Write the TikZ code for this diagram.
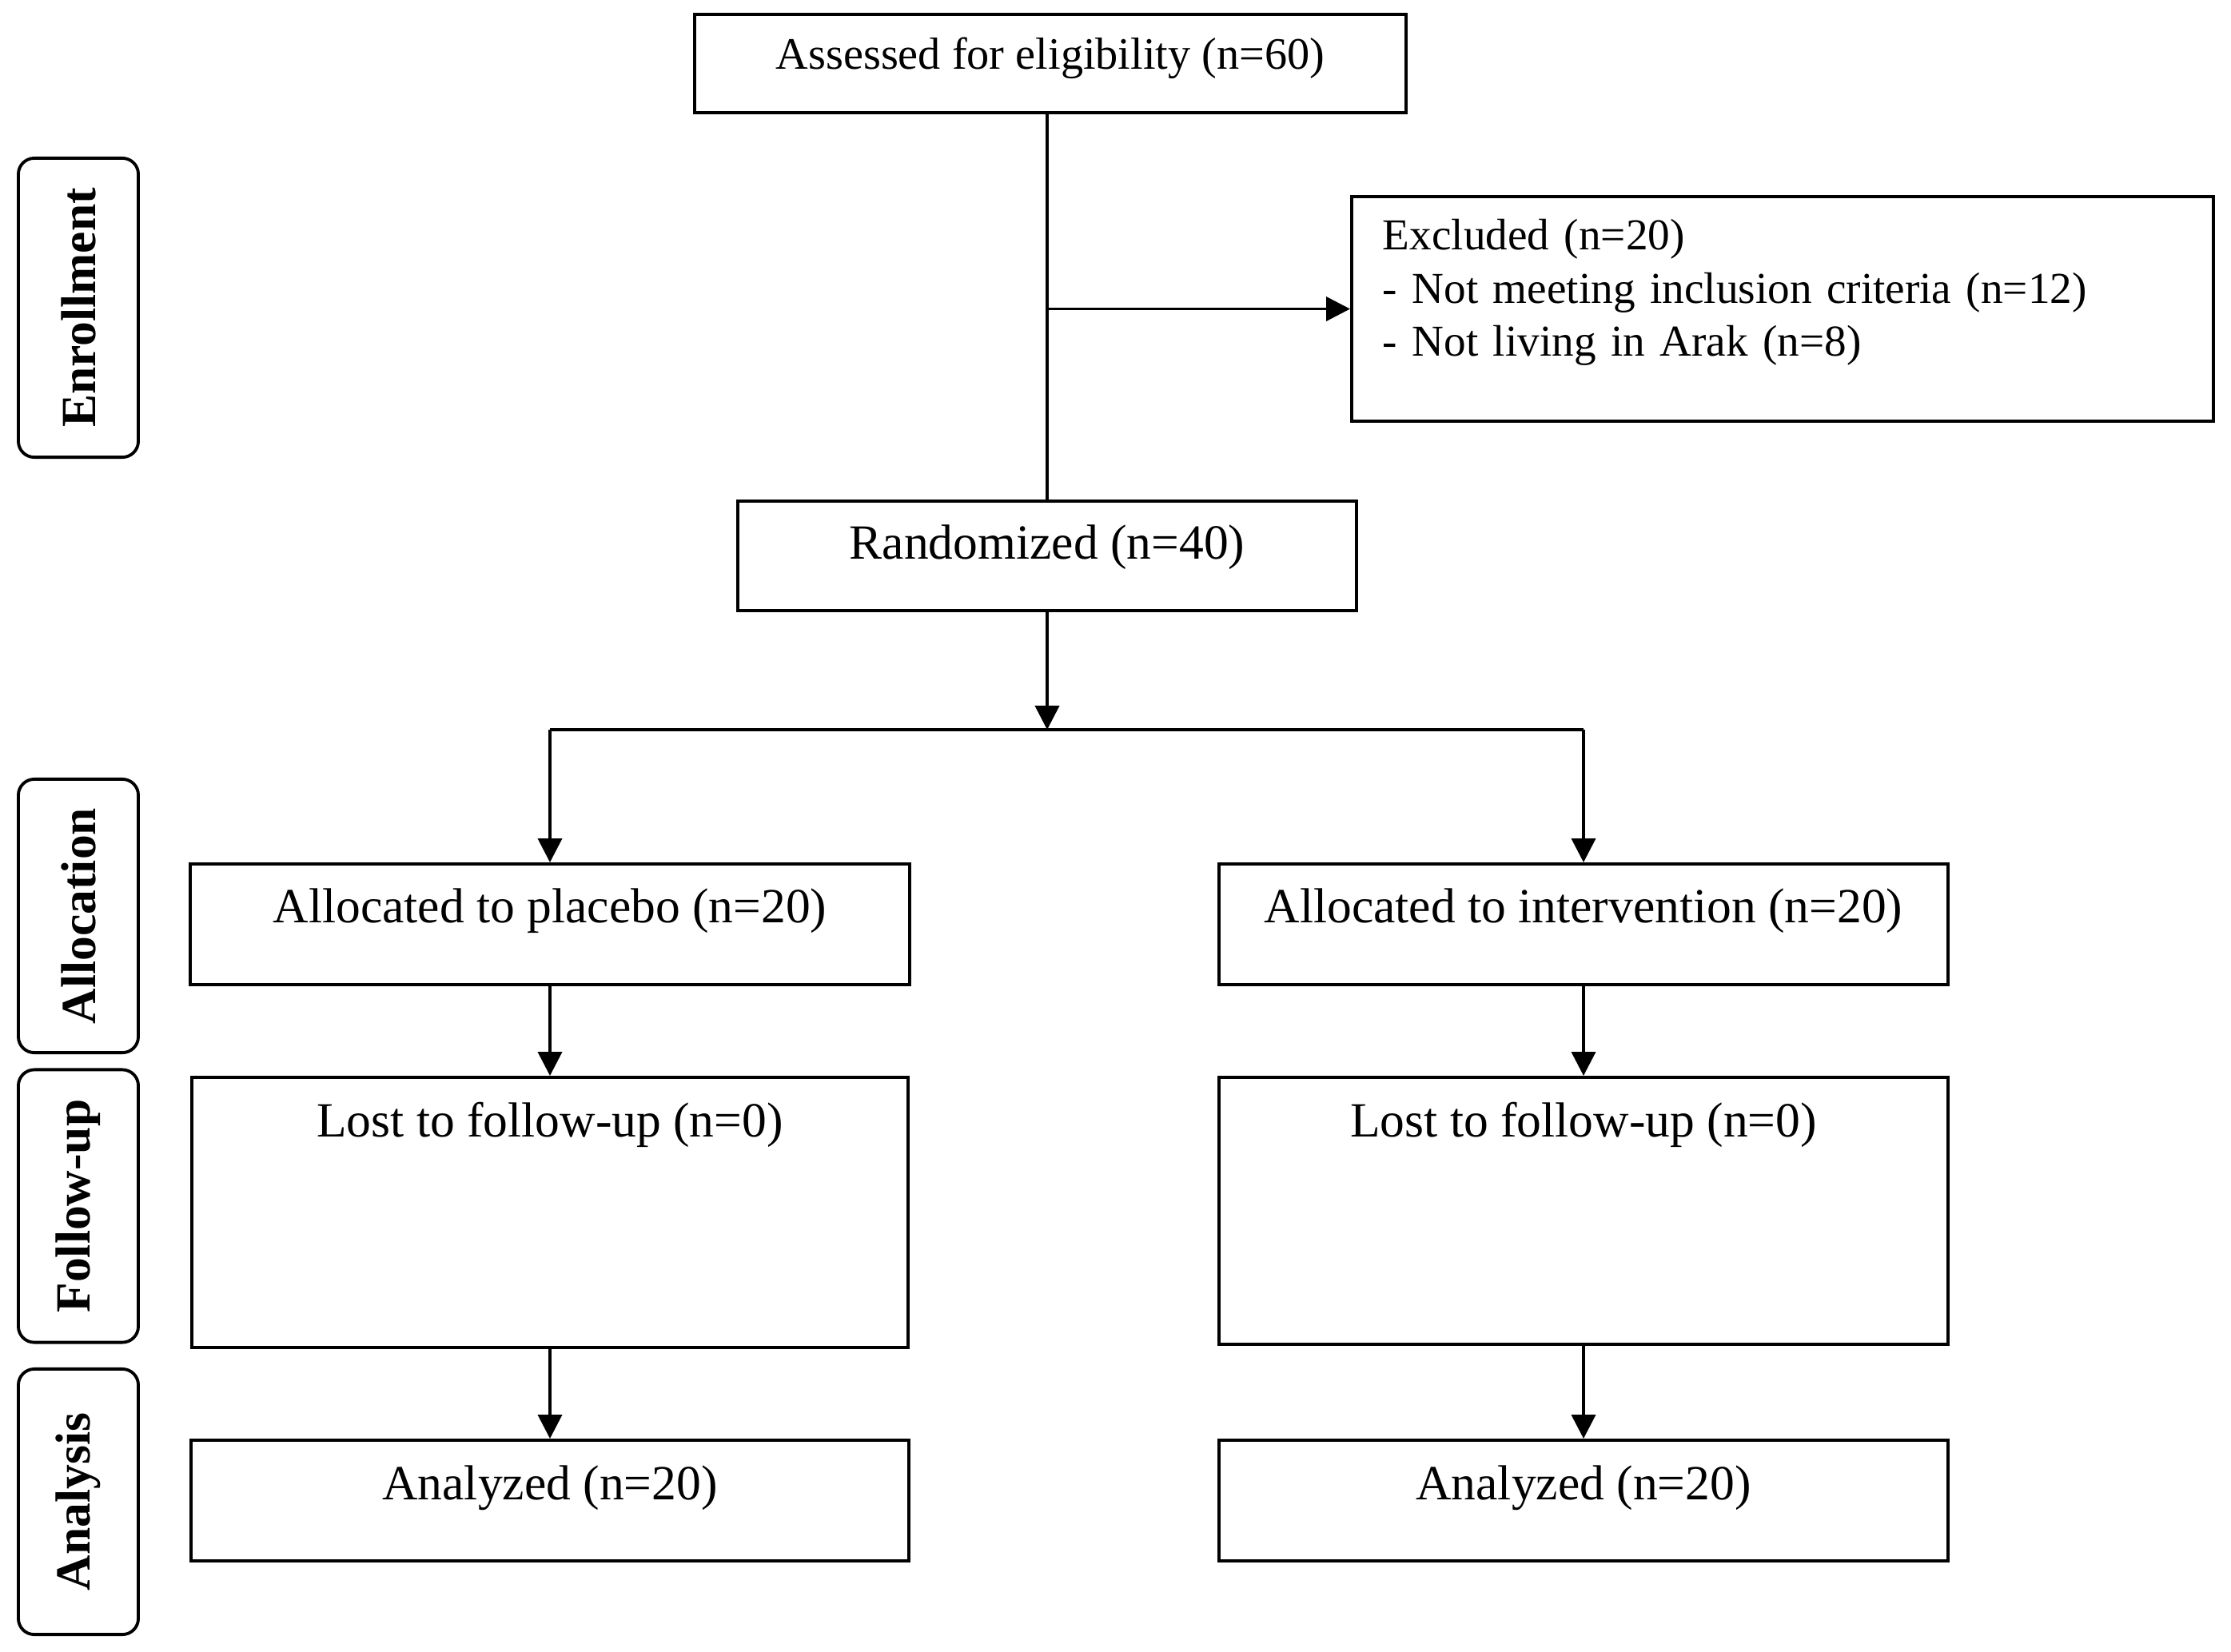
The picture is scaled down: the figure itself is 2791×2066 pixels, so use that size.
\documentclass[tikz,border=0pt]{standalone}
\usepackage{fontspec}
\setmainfont{Liberation Serif}
\usetikzlibrary{arrows.meta}

\begin{document}
\begin{tikzpicture}[x=0.01cm,y=-0.01cm,
    box/.style={draw,line width=1.1pt,inner sep=0pt,anchor=north,
      text height=0.74cm,text depth=0.77cm,font=\fontsize{17.5}{21}\selectfont},
    side/.style={draw,line width=1.1pt,rounded corners=0.2cm,rotate=90,
      minimum height=1.5cm,font=\fontsize{17.5}{20}\selectfont\bfseries},
    arr/.style={line width=1.1pt,-{Triangle[length=0.3cm,width=0.3cm]}}]
    \useasboundingbox (0,0) rectangle (2791,2066);

    % stages
    \node[side,minimum width=3.74cm] (enrol) at (98,385) {Enrollment};
    \node[side,minimum width=3.42cm] (alloc) at (98,1146) {Allocation};
    \node[side,minimum width=3.41cm] (follow) at (98,1509) {Follow-up};
    \node[side,minimum width=3.32cm] (anal) at (98,1879) {Analysis};

    % enrollment
    \node[box,minimum width=8.89cm,text height=0.69cm,text depth=0.54cm,
      font=\fontsize{16}{19}\selectfont] (assess) at (1314,16) {Assessed for eligibility (n=60)};
    \node[box,anchor=north west,align=left,inner xsep=0.39cm,text width=9.99cm,
      text height=0.67cm,text depth=2.14cm,font=\fontsize{15.7}{18.8}\selectfont] (excl) at (1689,244)
      {Excluded (n=20)\\- Not meeting inclusion criteria (n=12)\\- Not living in Arak (n=8)};
    \node[box,minimum width=7.74cm,text height=0.73cm,text depth=0.64cm] (rand) at (1310,625) {Randomized (n=40)};

    % allocation
    \node[box,minimum width=8.99cm] (plac) at (688,1079) {Allocated to placebo (n=20)};
    \node[box,minimum width=9.12cm] (inter) at (1981,1079) {Allocated to intervention (n=20)};

    % follow-up
    \node[box,minimum width=8.95cm,text depth=2.64cm] (lostp) at (688,1346) {Lost to follow-up (n=0)};
    \node[box,minimum width=9.12cm,text depth=2.60cm] (losti) at (1981,1346) {Lost to follow-up (n=0)};

    % analysis
    \node[box,minimum width=8.98cm] (anap) at (688,1800) {Analyzed (n=20)};
    \node[box,minimum width=9.12cm] (anai) at (1981,1800) {Analyzed (n=20)};

    \coordinate (tap) at (rand.north |- excl.west);
    \coordinate (split) at (1310,913);

    \draw[line width=1.1pt] (rand.north |- assess.south) -- (rand.north);
    \draw[arr] (tap) -- (excl.west);
    \draw[arr] (rand.south) -- (split);
    \draw[line width=1.1pt] (split -| plac.north) -- (split -| inter.north);
    \draw[arr] (split -| plac.north) -- (plac.north);
    \draw[arr] (split -| inter.north) -- (inter.north);
    \draw[arr] (plac.south) -- (lostp.north);
    \draw[arr] (inter.south) -- (losti.north);
    \draw[arr] (lostp.south) -- (anap.north);
    \draw[arr] (losti.south) -- (anai.north);
\end{tikzpicture}
\end{document}
